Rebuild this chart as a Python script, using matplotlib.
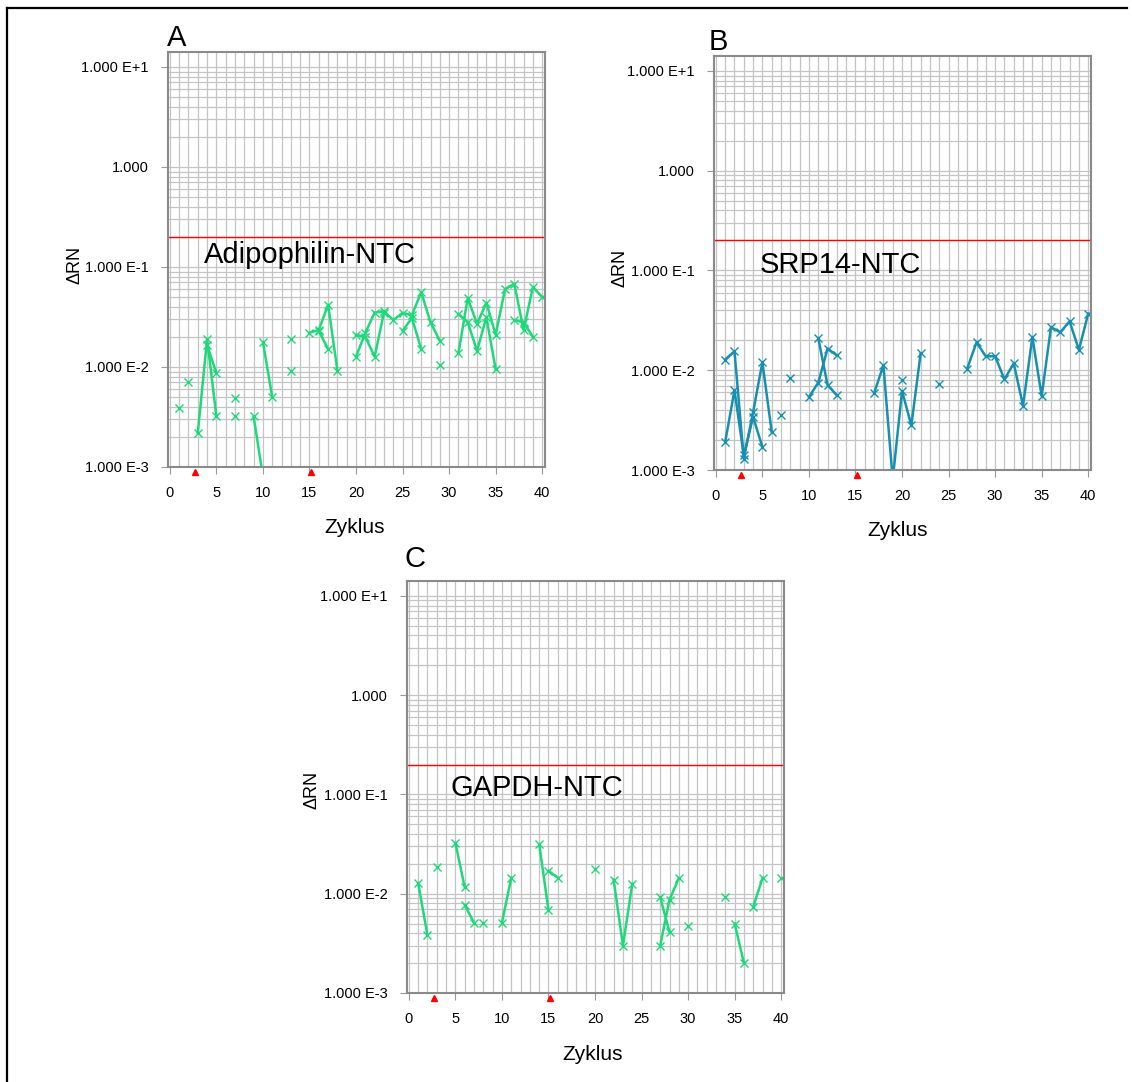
import numpy as np
import matplotlib
matplotlib.use('Agg')
import matplotlib.pyplot as plt
from matplotlib.lines import Line2D
from matplotlib.ticker import LogLocator, NullFormatter

plt.rcParams['font.family'] = ['Liberation Sans', 'DejaVu Sans']

# Zyklus 1..40, Werte je Kurve als {zyklus: dRn}
cycles = np.arange(1, 41)

adipo_1 = {3: 0.0022, 4: 0.019, 5: 0.0032, 9: 0.0032, 10: 0.0008,
           15: 0.022, 16: 0.0235, 17: 0.042, 18: 0.0092,
           20: 0.0127, 21: 0.022, 22: 0.035, 23: 0.036, 24: 0.0295, 25: 0.0347,
           26: 0.033, 27: 0.056, 28: 0.028, 29: 0.0183,
           31: 0.0138, 32: 0.049, 33: 0.027, 34: 0.044, 35: 0.021, 36: 0.060,
           37: 0.068, 38: 0.0235, 39: 0.063, 40: 0.050}
adipo_2 = {4: 0.0165, 5: 0.0087, 10: 0.0177, 11: 0.0050, 16: 0.023, 17: 0.0151,
           20: 0.021, 21: 0.020, 22: 0.0127, 23: 0.035, 25: 0.023, 26: 0.031,
           27: 0.0151, 31: 0.034, 32: 0.028, 33: 0.0145, 34: 0.0315, 35: 0.0095,
           37: 0.0295, 38: 0.028, 39: 0.020}
adipo_3 = {1: 0.0039, 7: 0.0049, 13: 0.019, 29: 0.0105}
adipo_4 = {2: 0.0071, 7: 0.0032, 13: 0.0091}

srp_1 = {1: 0.0128, 2: 0.0155, 3: 0.0013, 4: 0.0038, 5: 0.012, 6: 0.0024,
         10: 0.0054, 11: 0.0075, 12: 0.0165, 13: 0.0141,
         17: 0.0059, 18: 0.0112, 19: 0.0008, 20: 0.0062, 21: 0.0028, 22: 0.0148,
         27: 0.0104, 28: 0.019, 29: 0.0138, 30: 0.0138, 31: 0.0081, 32: 0.0117,
         33: 0.0044, 34: 0.0215, 35: 0.0055, 36: 0.027, 37: 0.024, 38: 0.031,
         39: 0.016, 40: 0.037}
srp_2 = {1: 0.0019, 2: 0.0063, 3: 0.0014, 4: 0.0034, 5: 0.0017, 8: 0.0083,
         11: 0.021, 12: 0.0071, 13: 0.0056}
srp_3 = {7: 0.0036, 20: 0.0079, 24: 0.0072}

gapdh_1 = {1: 0.0128, 2: 0.0038, 5: 0.0325, 6: 0.0116, 10: 0.0051, 11: 0.0145,
           14: 0.0316, 15: 0.0068, 22: 0.0138, 23: 0.0030, 24: 0.0126,
           27: 0.0092, 28: 0.0041, 35: 0.0050, 36: 0.0020}
gapdh_2 = {3: 0.0187, 6: 0.0077, 7: 0.0051, 15: 0.0170, 16: 0.0145, 20: 0.0178,
           27: 0.0030, 28: 0.0087, 29: 0.0144, 37: 0.0074, 38: 0.0144}
gapdh_3 = {8: 0.0051, 30: 0.0047, 34: 0.0093, 40: 0.0145}

threshold = 0.2
baseline_marks = [2.7, 15.2]
ytick_vals = [1e-3, 1e-2, 1e-1, 1, 10]
ytick_labels = ['1.000 E-3', '1.000 E-2', '1.000 E-1', '1.000', '1.000 E+1']
xtick_vals = [0, 5, 10, 15, 20, 25, 30, 35, 40]

W, H = 1132, 1082
fig = plt.figure(figsize=(W / 100, H / 100), dpi=100)


def px(x, y):
    return x / W, 1 - y / H


def panel(left, top_e1, bottom, series, color, name, name_xy, letter_xy, letter,
          ylab_xy, xlab_xy):
    # achsen in pixeln: links, oberkante, unterkante
    top = top_e1 - 15
    ax = fig.add_axes([left / W, 1 - bottom / H, 377 / W, (bottom - top) / H])
    ax.set_yscale('log')
    ax.set_ylim(1e-3, 10 ** 1.15)
    ax.set_xlim(-0.2, 40.3)
    ax.set_xticks(xtick_vals)
    ax.set_xticks(range(0, 41), minor=True)
    ax.set_yticks(ytick_vals)
    ax.set_yticklabels(ytick_labels)
    ax.yaxis.set_minor_locator(LogLocator(base=10, subs=range(2, 10)))
    ax.yaxis.set_minor_formatter(NullFormatter())
    ax.grid(which='both', color='#c4c4c4', lw=0.9)
    ax.set_axisbelow(True)
    ax.tick_params(which='major', length=5, color='#999999', labelsize=10.5, pad=9)
    ax.tick_params(which='minor', length=0)
    for sp in ax.spines.values():
        sp.set_color('#8a8a8a')
        sp.set_linewidth(1.5)

    for s in series:
        y = [s.get(c, np.nan) for c in cycles]
        ax.plot(cycles, y, color=color, lw=1.8, marker='x', ms=6, mew=1.0)
    ax.axhline(threshold, color='red', lw=1)
    ax.plot(baseline_marks, [-0.012] * 2, transform=ax.get_xaxis_transform(),
            ls='none', marker='^', ms=5, color='red', clip_on=False)

    fig.text(*px(*name_xy), name, fontsize=21, ha='left', va='center')
    fig.text(*px(*letter_xy), letter, fontsize=21, ha='left', va='bottom')
    fig.text(*px(*ylab_xy), 'ΔRN', fontsize=13, rotation=90, ha='center', va='center')
    fig.text(*px(*xlab_xy), 'Zyklus', fontsize=15, ha='center', va='center')
    return ax


green = '#1ed97a'
teal = '#1690b0'

panel(168, 67, 467, [adipo_1, adipo_2, adipo_3, adipo_4], green,
      'Adipophilin-NTC', (204, 255), (167, 52), 'A', (75, 265), (355, 527))
panel(714, 71, 470, [srp_1, srp_2, srp_3], teal,
      'SRP14-NTC', (760, 265), (709, 56), 'B', (620, 268), (898, 530))
panel(407, 596, 993, [gapdh_1, gapdh_2, gapdh_3], green,
      'GAPDH-NTC', (451, 788), (404, 573), 'C', (312, 790), (593, 1055))

# rahmen oben und links
fig.add_artist(Line2D([7 / W, 7 / W], [0, 1 - 8 / H], color='black', lw=1.6))
fig.add_artist(Line2D([7 / W, 1127 / W], [1 - 8 / H, 1 - 8 / H], color='black', lw=1.6))

fig.savefig('out.png', dpi=100)
